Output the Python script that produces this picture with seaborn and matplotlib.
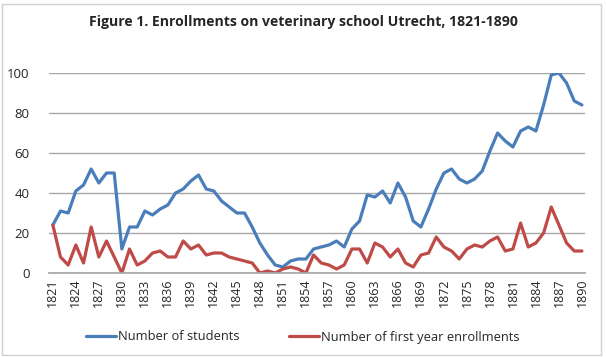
import matplotlib
matplotlib.use("Agg")
import matplotlib.pyplot as plt
import pandas as pd
import seaborn as sns
from matplotlib.patches import Rectangle

years = list(range(1821, 1891))
students = [
    24, 31, 30, 41, 44, 52, 45, 50, 50, 12,
    23, 23, 31, 29, 32, 34, 40, 42, 46, 49,
    42, 41, 36, 33, 30, 30, 23, 15, 9, 4,
    3, 6, 7, 7, 12, 13, 14, 16, 13, 22,
    26, 39, 38, 41, 35, 45, 38, 26, 23, 32,
    42, 50, 52, 47, 45, 47, 51, 61, 70, 66,
    63, 71, 73, 71, 84, 99, 100, 95, 86, 84,
]
first_year = [
    24, 8, 4, 14, 5, 23, 8, 16, 8, 0,
    12, 4, 6, 10, 11, 8, 8, 16, 12, 14,
    9, 10, 10, 8, 7, 6, 5, 0, 1, 0,
    2, 3, 2, 0, 9, 5, 4, 2, 4, 12,
    12, 5, 15, 13, 8, 12, 5, 3, 9, 10,
    18, 13, 11, 7, 12, 14, 13, 16, 18, 11,
    12, 25, 13, 15, 20, 33, 24, 15, 11, 11,
]
series_names = ["Number of students", "Number of first year enrollments"]
colors = ["#4A7EBB", "#BE4B48"]

df = pd.DataFrame({
    "year": years * 2,
    "value": students + first_year,
    "series": [series_names[0]] * len(years) + [series_names[1]] * len(years),
})

sns.set_theme(style="white")
plt.rcParams["font.family"] = ["Open Sans", "DejaVu Sans"]

fig = plt.figure(figsize=(6.06, 3.57), dpi=100)
ax = fig.add_axes([49 / 606, 1 - 273 / 357, 536 / 606, 200 / 357])

sns.lineplot(
    data=df, x="year", y="value", hue="series",
    palette=colors, linewidth=2.3, ax=ax, legend=True,
)
for line in ax.get_lines():
    line.set_solid_joinstyle("round")

ax.set_xlim(1820.5, 1890.4)
ax.set_ylim(0, 100)
ax.set_yticks(range(0, 101, 20))
ax.set_xticks(years[::3])
ax.set_xticklabels([str(y) for y in years[::3]], rotation=90, fontsize=9)
ax.tick_params(axis="y", labelsize=9.5, length=0, pad=14)
ax.tick_params(axis="x", length=0, pad=4)
ax.yaxis.grid(True, color="#a6a6a6", linewidth=1)
ax.set_axisbelow(True)
for side in ["top", "right", "left"]:
    ax.spines[side].set_visible(False)
ax.spines["bottom"].set_color("#a6a6a6")
ax.set_xlabel("")
ax.set_ylabel("")

handles, labels = ax.get_legend_handles_labels()
ax.legend_.remove()
fig.legend(
    handles, labels, loc="center", bbox_to_anchor=(0.5, 1 - 337 / 357),
    ncol=2, frameon=False, fontsize=9.3, columnspacing=3.8,
    handlelength=2.3, handletextpad=0.2,
)

fig.text(0.5, 1 - 22 / 357, "Figure 1. Enrollments on veterinary school Utrecht, 1821-1890",
         ha="center", va="center", fontsize=10.1, fontweight="bold")

fig.patches.append(Rectangle((2 / 606, 2 / 357), 599 / 606, 351 / 357,
                             transform=fig.transFigure, fill=False,
                             edgecolor="#d0d0d0", linewidth=1))

fig.savefig("out.png", dpi=100)
